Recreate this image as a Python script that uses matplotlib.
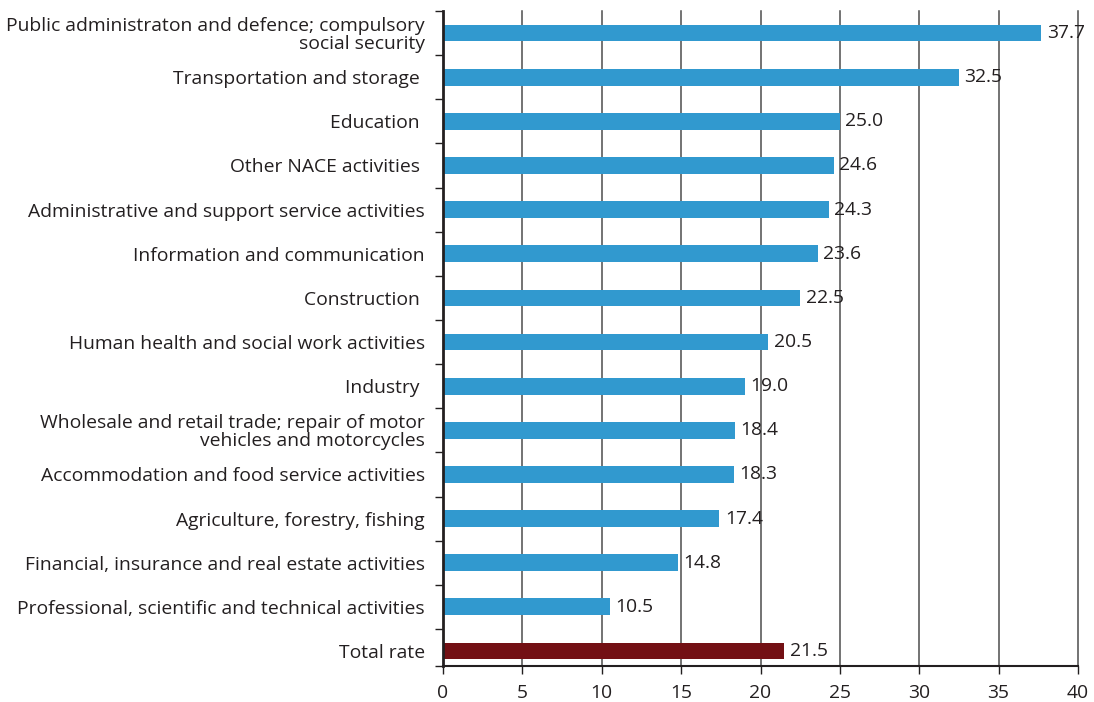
import numpy as np
import matplotlib.pyplot as plt

plt.rcParams['font.family'] = ['Open Sans', 'DejaVu Sans']

# Sectors listed top to bottom, with their rates (%)
sectors = [
    'Public administraton and defence; compulsory\nsocial security',
    'Transportation and storage ',
    'Education ',
    'Other NACE activities ',
    'Administrative and support service activities',
    'Information and communication',
    'Construction ',
    'Human health and social work activities',
    'Industry ',
    'Wholesale and retail trade; repair of motor\nvehicles and motorcycles',
    'Accommodation and food service activities',
    'Agriculture, forestry, fishing',
    'Financial, insurance and real estate activities',
    'Professional, scientific and technical activities',
    'Total rate',
]
rates = [37.7, 32.5, 25.0, 24.6, 24.3, 23.6, 22.5, 20.5, 19.0, 18.4, 18.3, 17.4, 14.8, 10.5, 21.5]
x_ticks = [0, 5, 10, 15, 20, 25, 30, 35, 40]

blue = '#3199cf'
red = '#731014'
text_col = '#231f20'
colors = [blue] * (len(sectors) - 1) + [red]
fs = 13.9

fig = plt.figure(figsize=(10.94, 7.02), dpi=100)
ax = fig.add_axes([443 / 1094, 36 / 702, 635 / 1094, 655 / 702])

y = np.arange(len(sectors))
ax.barh(y, rates, height=0.38, color=colors, zorder=3)

for yi, v in zip(y, rates):
    ax.text(v + 0.35, yi, f'{v:.1f}', va='center', ha='left', fontsize=fs,
            color=text_col, zorder=4)

y_bottom = len(sectors) - 0.66
ax.set_ylim(y_bottom, -0.5)
ax.set_xlim(0, 40)
ax.set_xticks(x_ticks)
ax.tick_params(axis='x', labelsize=fs, length=6, width=1, colors=text_col, pad=7)

# category labels sit at bar centres, tick marks at category boundaries
ax.set_yticks(y)
ax.set_yticklabels(sectors, fontsize=fs, color=text_col, linespacing=1.0)
ax.tick_params(axis='y', length=0, pad=13)
ax.set_yticks(list(np.arange(-0.5, len(sectors) - 1, 1.0)) + [y_bottom], minor=True)
ax.tick_params(axis='y', which='minor', length=6, width=1, color=text_col)

for xv in x_ticks[1:]:
    ax.axvline(xv, color='#4d4d4d', lw=1.1, zorder=1, clip_on=False)

for side in ['top', 'right']:
    ax.spines[side].set_visible(False)
ax.spines['left'].set_linewidth(2)
ax.spines['bottom'].set_linewidth(1.5)
ax.spines['left'].set_color(text_col)
ax.spines['bottom'].set_color(text_col)
ax.spines['left'].set_zorder(5)

fig.savefig('out.png', dpi=100)
